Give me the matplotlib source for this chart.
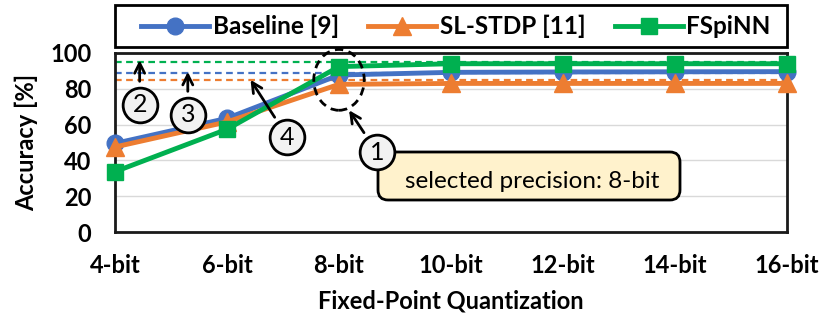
import numpy as np
import matplotlib
matplotlib.use("Agg")
import matplotlib.pyplot as plt
from matplotlib.patches import Ellipse, FancyBboxPatch, Rectangle

plt.rcParams['font.family'] = ['Lato', 'DejaVu Sans']

# data
bits = ["4-bit", "6-bit", "8-bit", "10-bit", "12-bit", "14-bit", "16-bit"]
baseline = [49.5, 63.5, 87.7, 89.2, 89.4, 89.5, 89.6]
sl_stdp = [47.5, 61.5, 82.5, 83.0, 83.0, 83.0, 83.0]
fspinn = [33.7, 57.4, 92.4, 94.0, 94.0, 94.0, 94.0]
ref_levels = {"fspinn": 94.8, "baseline": 88.7, "sl_stdp": 84.9}

BLUE = "#4472C4"
ORANGE = "#ED7D31"
GREEN = "#00B050"
W, H = 831, 323

fig = plt.figure(figsize=(W / 100, H / 100), dpi=100)
ax = fig.add_axes([115 / W, 1 - 232 / H, 672 / W, 179 / H])

x = np.arange(len(bits))

# full-precision reference levels
ax.axhline(ref_levels["fspinn"], color=GREEN, lw=1.6, ls=(0, (3, 2)), zorder=2)
ax.axhline(ref_levels["baseline"], color=BLUE, lw=1.6, ls=(0, (3, 2)), zorder=2)
ax.axhline(ref_levels["sl_stdp"], color=ORANGE, lw=1.6, ls=(0, (3, 2)), zorder=2)

ax.plot(x, baseline, color=BLUE, lw=3.5, marker='o', ms=12, label="Baseline [9]",
        clip_on=False, zorder=3)
ax.plot(x, sl_stdp, color=ORANGE, lw=3.5, marker='^', ms=13, label="SL-STDP [11]",
        clip_on=False, zorder=4)
ax.plot(x, fspinn, color=GREEN, lw=3.5, marker='s', ms=11, label="FSpiNN",
        clip_on=False, zorder=5)

ax.set_xlim(0, 6)
ax.set_ylim(0, 100)
ax.set_xticks(x)
ax.set_xticklabels(bits)
ax.set_yticks(np.arange(0, 101, 20))
ax.tick_params(axis='x', length=0, labelsize=17, pad=16)
ax.tick_params(axis='y', length=0, labelsize=17, pad=17)
for lbl in ax.get_xticklabels() + ax.get_yticklabels():
    lbl.set_fontweight('bold')
ax.yaxis.grid(True, color="#D9D9D9", lw=1)
ax.set_axisbelow(True)
for sp in ax.spines.values():
    sp.set_linewidth(2)
    sp.set_color("#1a1a1a")

ax.set_xlabel("Fixed-Point Quantization", fontsize=17, fontweight='bold', labelpad=9)
ax.set_ylabel("Accuracy [%]", fontsize=17, fontweight='bold', labelpad=9)

# annotations
ax.add_patch(Ellipse((2.0, 85), 0.45, 34, fill=False, ec='black', lw=2,
                     ls=(0, (3, 2)), zorder=6, clip_on=False))

bx0, bx1 = (378 - 115) / 672, (680 - 115) / 672
by0, by1 = (232 - 200) / 179, (232 - 152) / 179
ax.add_patch(FancyBboxPatch((bx0, by0), bx1 - bx0, by1 - by0,
                            boxstyle="round,pad=0,rounding_size=0.015",
                            mutation_aspect=672 / 179, transform=ax.transAxes,
                            fc="#FFF2CC", ec="black", lw=2, zorder=7))
ax.text((bx0 + bx1) / 2 + 0.005, (232 - 182) / 179, "selected precision: 8-bit",
        fontsize=17.5, ha='center', va='center', zorder=8, transform=ax.transAxes)

circles = [("1", 2.34, 44.5, 2.09, 68),
           ("2", 0.22, 71, 0.22, 96),
           ("3", 0.65, 65.4, 0.65, 89.5),
           ("4", 1.54, 53, 1.21, 85)]
for num, cx, cy, tx, ty in circles:
    ax.annotate("", xy=(tx, ty), xytext=(cx, cy),
                arrowprops=dict(arrowstyle='->', lw=2, color='black',
                                mutation_scale=18, shrinkA=17, shrinkB=0),
                zorder=9, annotation_clip=False)
    ax.plot(cx, cy, marker='o', ms=25, mfc="#F2F2F2", mec='black', mew=2,
            zorder=10, clip_on=False)
    ax.text(cx, cy, num, fontsize=18, ha='center', va='center', zorder=11)

# legend frame spans the plot width
fig.add_artist(Rectangle((115 / W, 1 - 47 / H), 672 / W, 42 / H, transform=fig.transFigure,
                         fill=False, ec='black', lw=2))
fig.legend(loc='center', bbox_to_anchor=(456 / W, 1 - 26.5 / H), ncol=3,
           frameon=False, prop=dict(size=17.5, weight='bold'), handlelength=2.8,
           handletextpad=0.15, columnspacing=1.2, borderaxespad=0)

fig.savefig("out.png", dpi=100)
